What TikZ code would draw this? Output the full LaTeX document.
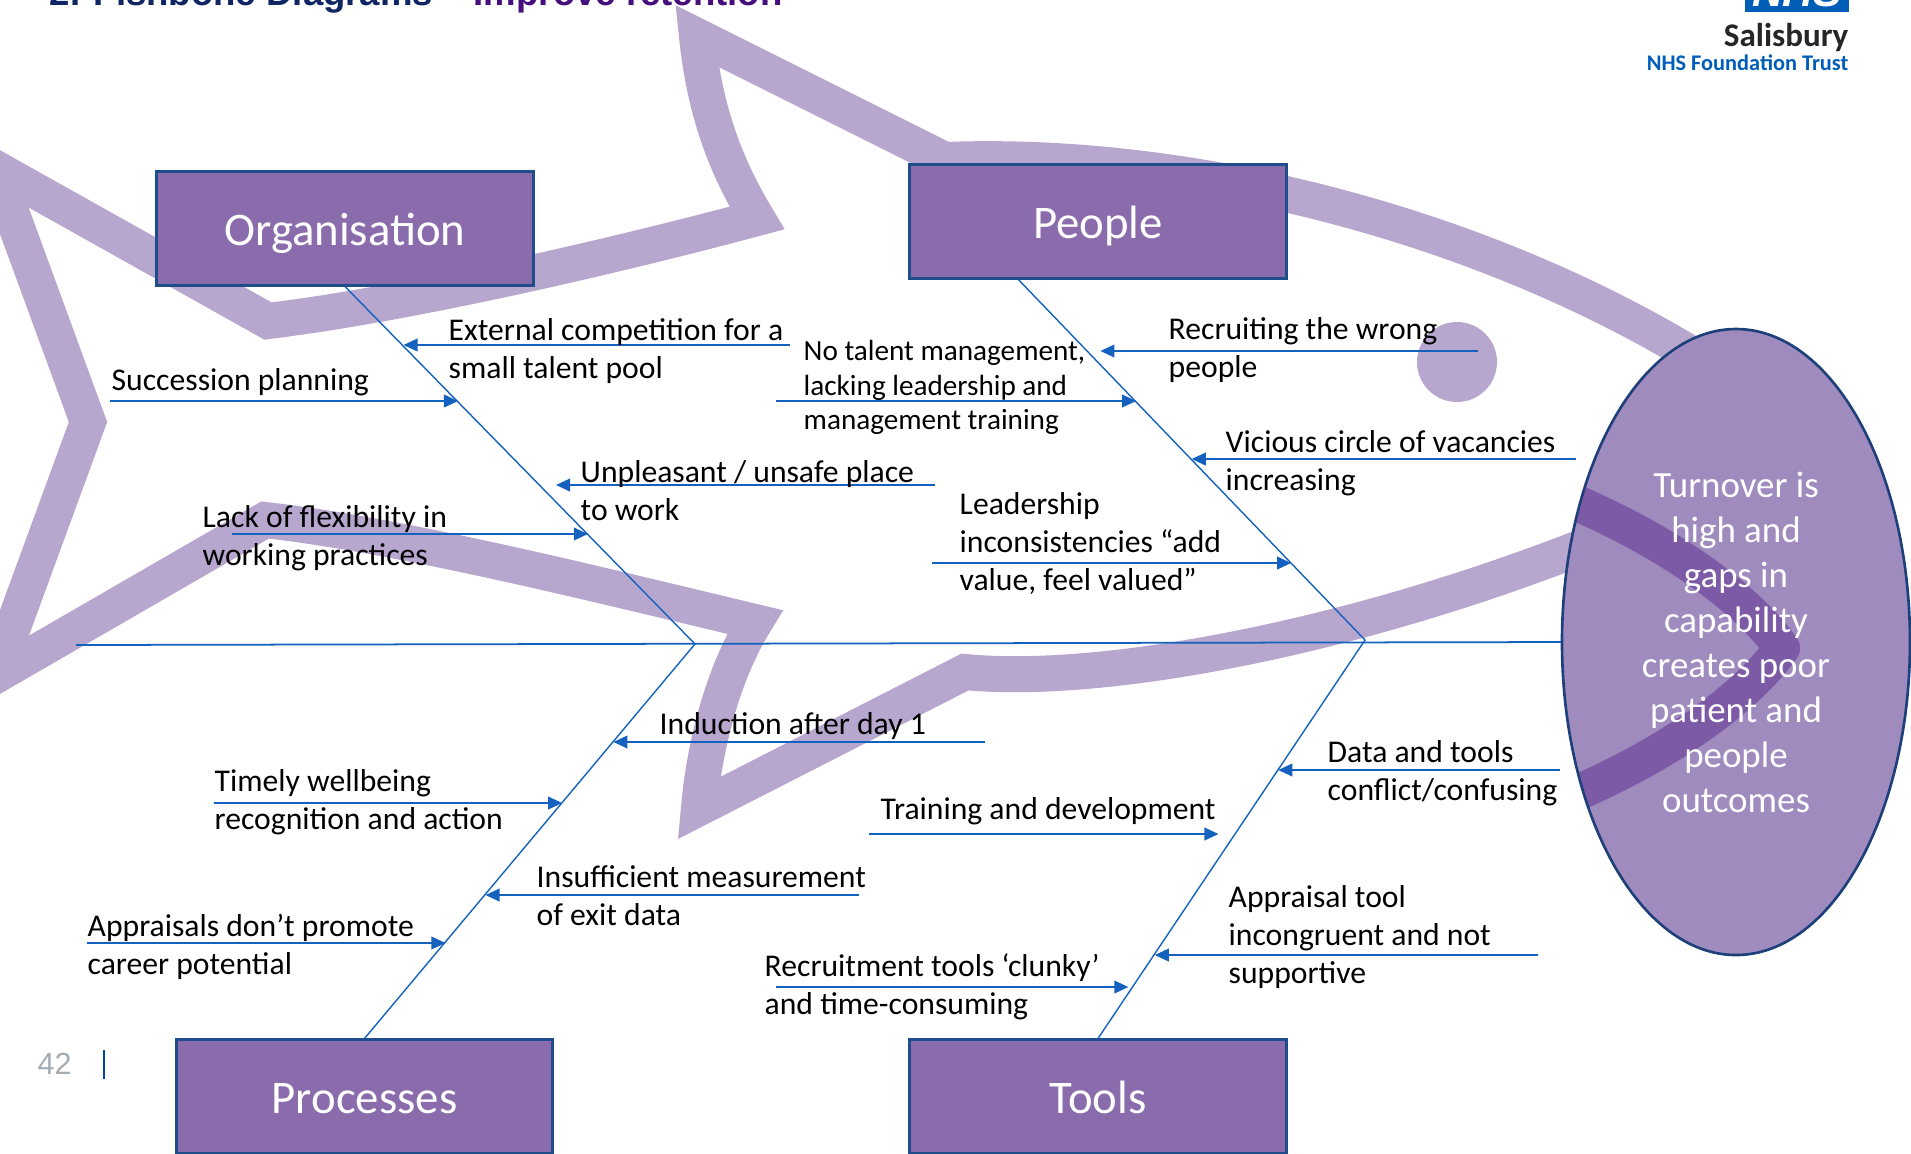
\documentclass[tikz,border=0pt]{standalone}
\usepackage{fontspec}
\setmainfont{Carlito}
\newfontfamily\arialfont{Liberation Sans}
\usetikzlibrary{calc, positioning, arrows.meta, shapes.geometric}

\definecolor{finband}{RGB}{183,166,206}
\definecolor{boxfill}{RGB}{138,107,172}
\definecolor{boxline}{RGB}{31,77,139}
\definecolor{bonecol}{RGB}{21,98,190}
\definecolor{goalfill}{RGB}{160,139,191}
\definecolor{goalline}{RGB}{29,63,122}
\definecolor{gillband}{RGB}{124,90,165}
\definecolor{titlenavy}{RGB}{16,38,100}
\definecolor{titlepurple}{RGB}{70,13,125}
\definecolor{nhsblue}{RGB}{0,94,184}
\definecolor{pagegray}{RGB}{165,172,180}

\tikzset{
  fishband/.style={draw=finband, line width=0.36cm, miter limit=3},
  catbox/.style={draw=boxline, line width=0.85pt, fill=boxfill, text=white,
    minimum width=3.76cm, minimum height=1.13cm, inner sep=0pt,
    text height=12pt, text depth=2.4pt,
    font=\fontsize{13.3}{16}\selectfont},
  bone/.style={draw=bonecol, line width=0.4pt},
  cause/.style={draw=bonecol, line width=0.5pt, -{Triangle[length=4pt,width=3.6pt]}},
  causetext/.style={anchor=west, align=left, inner sep=0pt, yshift=-0.7pt,
    font=\fontsize{9}{10.8}\selectfont},
}

\begin{document}
\begin{tikzpicture}[x=0.01cm, y=-0.01cm]
\useasboundingbox (0,0) rectangle (1911,1153);
\clip (0,0) rectangle (1911,1153);

% heading, mostly cut off at the top edge
\node[anchor=base west, inner sep=0pt, text=titlenavy,
      font=\arialfont\bfseries\fontsize{10.4}{12}\selectfont] (title) at (49,5)
  {2. Fishbone Diagrams – \textcolor{titlepurple}{Improve retention}};

% trust logo
\fill[nhsblue] (1745,-50) rectangle (1849,12);
\node[anchor=base, inner sep=0pt, text=white,
      font=\arialfont\bfseries\itshape\fontsize{12.1}{14}\selectfont] (nhs) at (1797,6) {NHS};
\node[anchor=east, inner sep=0pt, text=nhsblue,
      font=\bfseries\fontsize{6.35}{8}\selectfont] (trust) at (1849,63) {NHS Foundation Trust};
\node[anchor=east, inner sep=0pt, text=black!85,
      font=\bfseries\fontsize{9.4}{11}\selectfont] (sal) at (1849,37) {Salisbury};

% fish outline: head top, dorsal fin, tail, ventral fin, head bottom
\draw[fishband] (1720,372) .. controls (1500,230) and (1200,150) .. (945,160)
  -- (697,36)
  .. controls (705,115) and (728,170) .. (757,218)
  .. controls (600,260) and (400,305) .. (268,321)
  -- (-5,168) -- (88,422) -- (-5,676) -- (265,520)
  .. controls (400,535) and (600,585) .. (755,622)
  .. controls (725,670) and (705,740) .. (699,808)
  -- (965,672)
  .. controls (1100,685) and (1350,640) .. (1600,540);
\fill[finband] (1457,362) circle [radius=40];

% effect
\node[ellipse, fill=goalfill, minimum width=3.48cm, minimum height=6.27cm,
      inner sep=0pt] (goal) at (1736,642) {};
\begin{scope}
  \clip (goal.center) ellipse [x radius=174, y radius=313];
  \draw[draw=gillband, line width=0.36cm, line join=round]
    (1540,488) .. controls (1650,530) and (1740,590) .. (1782,648)
    .. controls (1740,706) and (1650,766) .. (1540,808);
\end{scope}
\draw[goalline, line width=0.75pt] (goal.center) ellipse [x radius=174, y radius=313];
\node[align=center, text=white, inner sep=0pt,
      font=\fontsize{10.5}{12.8}\selectfont] (goaltext) at (goal.center)
  {Turnover is\\high and\\gaps in\\capability\\creates poor\\patient and\\people\\outcomes};

% spine and joints
\coordinate (tail) at (76,645);
\coordinate (jl) at (695,644);
\coordinate (jr) at (1365,640);
\draw[bone, line width=0.5pt] (tail) -- (goal.west);

% category boxes
\node[catbox] (org) at (345,228.5) {Organisation};
\node[catbox] (people) at (1098,221.5) {People};
\node[catbox] (proc) at (364.5,1096.5) {Processes};
\node[catbox] (tools) at (1098,1096.5) {Tools};
\coordinate (pb) at ($(people.south west)!0.29!(people.south east)$);

% bones
\draw[bone] (org.south) -- (jl) -- (proc.north);
\draw[bone] (pb) -- (jr) -- (tools.north);

% points where the causes meet the bones
\foreach \n/\f in {o1/0.167, o2/0.323, o3/0.557, o4/0.694}
  \coordinate (\n) at ($(org.south)!\f!(jl)$);
\foreach \n/\f in {r1/0.247, r2/0.402, r3/0.634, r4/0.755}
  \coordinate (\n) at ($(jl)!\f!(proc.north)$);
\foreach \n/\f in {p1/0.202, p2/0.340, p3/0.5, p4/0.787}
  \coordinate (\n) at ($(pb)!\f!(jr)$);
\foreach \n/\f in {t1/0.325, t2/0.485, t3/0.7875, t4/0.8675}
  \coordinate (\n) at ($(jr)!\f!(tools.north)$);

% free ends of the cause arrows
\foreach \n/\x/\y in {o1/790/345, o2/110/401, o3/935/485, o4/232/534,
                      r1/985/742, r2/214/803, r3/859/895, r4/87/943,
                      p1/1478/351, p2/776/401, p3/1576/459, p4/932/563,
                      t1/1560/770, t2/869/834, t3/1538/955, t4/776/987}
  \coordinate (s\n) at (\x,\y);

% a few arrows stop short of their bone
\foreach \n/\gap in {o1/0, o2/0, o3/0.16, o4/0, r1/0, r2/0, r3/0, r4/0,
                     p1/0.12, p2/0, p3/0, p4/0, t1/0, t2/0.17, t3/0, t4/0.05}
  \draw[cause, shorten >=\gap cm] (s\n) -- (s\n -| \n);

% cause labels
\node[causetext] (ext) at (448,349) {External competition for a\\small talent pool};
\node[causetext] (succ) at (111,380) {Succession planning};
\node[causetext] (unsafe) at (580,488) {Unpleasant / unsafe place\\to work};
\node[causetext] (flex) at (202,536) {Lack of flexibility in\\working practices};

\node[causetext] (induct) at (659,724) {Induction after day 1};
\node[causetext] (well) at (214,800) {Timely wellbeing\\recognition and action};
\node[causetext] (exitdata) at (536,893) {Insufficient measurement\\of exit data};
\node[causetext] (apprais) at (87,944) {Appraisals don’t promote\\career potential};

\node[causetext] (wrong) at (1168,348) {Recruiting the wrong\\people};
\node[causetext, font=\fontsize{8.3}{9.9}\selectfont] (talent) at (803,385)
  {No talent management,\\lacking leadership and\\management training};
\node[causetext] (vicious) at (1225,461) {Vicious circle of vacancies\\increasing};
\node[causetext] (lead) at (959,541) {Leadership\\inconsistencies “add\\value, feel valued”};

\node[causetext] (datatools) at (1327,771) {Data and tools\\conflict/confusing};
\node[causetext] (train) at (880,809) {Training and development};
\node[causetext] (apptool) at (1228,935) {Appraisal tool\\incongruent and not\\supportive};
\node[causetext] (clunky) at (764,984) {Recruitment tools ‘clunky’\\and time-consuming};

% page number
\node[anchor=west, inner sep=0pt, text=pagegray,
      font=\arialfont\fontsize{8.7}{10}\selectfont] (pageno) at (37,1064) {42};
\draw[nhsblue!80!black, line width=0.8pt] (104,1050) -- (104,1079);
\end{tikzpicture}
\end{document}
